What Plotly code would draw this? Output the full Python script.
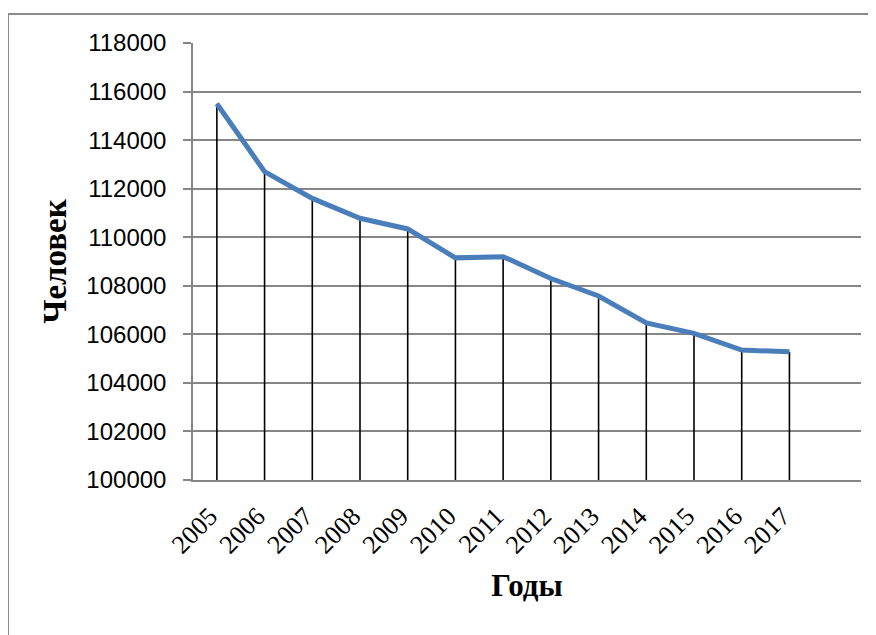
import plotly.graph_objects as go

years = ["2005", "2006", "2007", "2008", "2009", "2010", "2011",
         "2012", "2013", "2014", "2015", "2016", "2017"]
people = [115500, 112700, 111600, 110780, 110340, 109150, 109200,
          108300, 107580, 106470, 106040, 105350, 105280]
y_ticks = [100000, 102000, 104000, 106000, 108000, 110000, 112000,
           114000, 116000, 118000]
base_value = 100000
y_title = "Человек"
x_title = "Годы"

idx = list(range(len(years)))
drops = [v - base_value for v in people]

# the page body adds an 8px offset; compensate in the margins
L, T, PW, PH = 185, 35, 668, 437

fig = go.Figure()
fig.add_trace(go.Scatter(
    x=idx, y=people, mode="markers",
    marker=dict(size=0.1, color="rgba(0,0,0,0)"),
    error_y=dict(type="data", symmetric=False, array=[0] * len(people),
                 arrayminus=drops, width=0, thickness=1.6, color="black"),
    hoverinfo="skip", showlegend=False,
))
fig.add_trace(go.Scatter(
    x=idx, y=people, mode="lines",
    line=dict(color="#4A7EBB", width=5),
    showlegend=False,
))

fig.update_layout(
    width=876, height=635,
    margin=dict(l=L, r=876 - L - PW, t=T, b=635 - T - PH, autoexpand=False),
    paper_bgcolor="white", plot_bgcolor="white",
    showlegend=False,
    xaxis=dict(
        range=[-0.5, len(years) + 0.5],
        tickmode="array", tickvals=idx, ticktext=years,
        tickangle=-45,
        tickfont=dict(family="Liberation Serif", size=26, color="black"),
        showgrid=False, zeroline=False,
        showline=True, linecolor="#868686", linewidth=1.5,
        ticks="",
        ticklabelstandoff=9,
        ticklabelshift=-7,
        automargin=False,
        title=dict(text="<b>" + x_title + "</b>",
                   font=dict(family="Liberation Serif", size=31, color="black"),
                   standoff=16),
    ),
    yaxis=dict(
        range=[100000, 118000],
        tickmode="array", tickvals=y_ticks,
        tickformat="d",
        tickfont=dict(family="Liberation Sans", size=24, color="black"),
        showgrid=True, gridcolor="#868686", gridwidth=1.5,
        zeroline=False,
        showline=True, linecolor="#868686", linewidth=1.5,
        ticks="outside", ticklen=8, tickcolor="#868686", tickwidth=1.5,
        ticklabelstandoff=12,
        automargin=False,
        title=dict(text="<b>" + y_title + "</b>",
                   font=dict(family="Liberation Serif", size=33, color="black"),
                   standoff=10),
    ),
    shapes=[dict(type="rect", xref="paper", yref="paper",
                 x0=(0 - L) / PW, x1=1.2, y0=-0.5, y1=1 + (T - 6) / PH,
                 line=dict(color="#8a8a8a", width=2), fillcolor="rgba(0,0,0,0)",
                 layer="below")],
)

fig.write_html("out.html")
